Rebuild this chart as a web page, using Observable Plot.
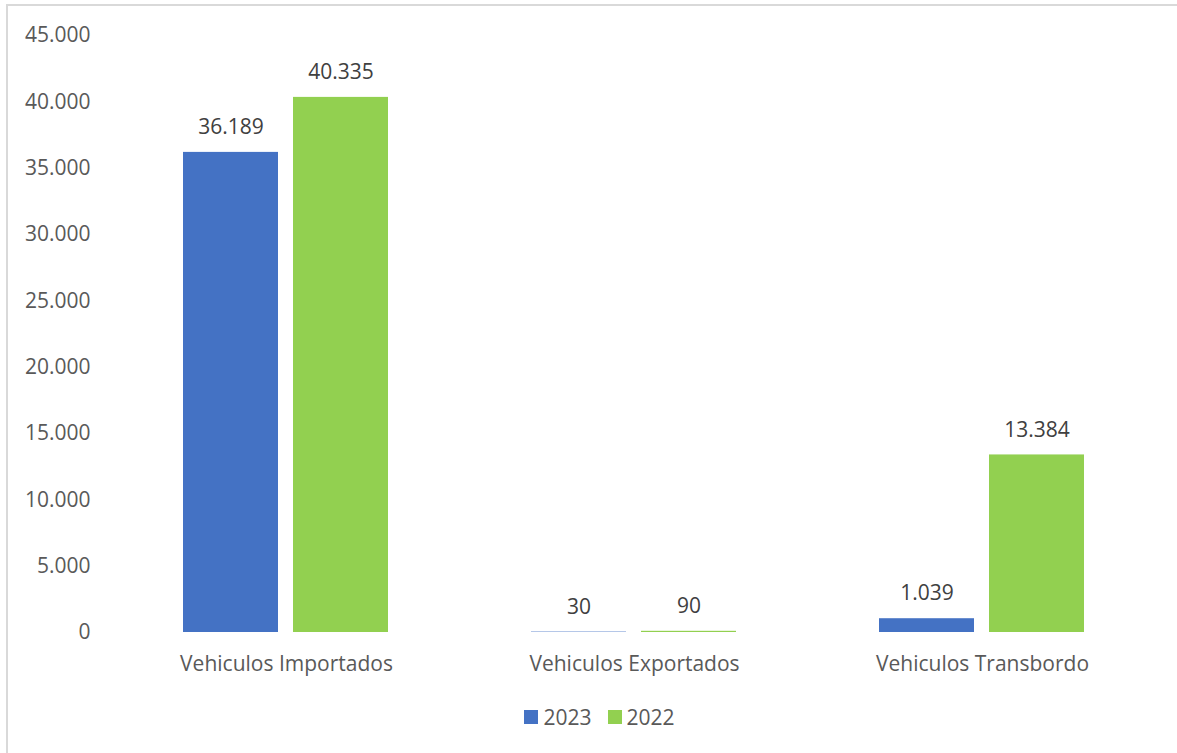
<!DOCTYPE html>
<html>
<head>
<meta charset="utf-8">
<script src="https://cdn.jsdelivr.net/npm/d3@7"></script>
<script src="https://cdn.jsdelivr.net/npm/@observablehq/plot@0.6"></script>
<style>
  html, body { margin: 0; padding: 0; background: #fff; }
  body { width: 1177px; height: 753px; position: relative; overflow: hidden; font-family: "Open Sans", sans-serif; }
  #frame { position: absolute; left: 6px; top: 4px; width: 1200px; height: 800px; border: 2px solid #d9d9d9; box-sizing: border-box; }
  #chart { position: absolute; left: 0; top: 0; }
  #legend { position: absolute; left: 0; top: 703px; width: 1177px; display: flex; justify-content: center; gap: 16px; font-size: 21px; color: #595959; padding-left: 22px; box-sizing: border-box; }
  #legend .item { display: flex; align-items: center; gap: 5px; }
  #legend .sw { width: 14px; height: 14px; display: inline-block; }
</style>
</head>
<body>
<div id="frame"></div>
<div id="chart"></div>
<div id="legend"></div>
<script>
const categories = ["Vehiculos Importados", "Vehiculos Exportados", "Vehiculos Transbordo"];
const years = ["2023", "2022"];
const values2023 = [36189, 30, 1039];
const values2022 = [40335, 90, 13384];
const yTicks = [0, 5000, 10000, 15000, 20000, 25000, 30000, 35000, 40000, 45000];
const colors = ["#4472C4", "#92D050"];

const data = [];
categories.forEach((c, i) => {
  data.push({category: c, year: years[0], value: values2023[i]});
  data.push({category: c, year: years[1], value: values2022[i]});
});

const locale = d3.formatLocale({decimal: ",", thousands: ".", grouping: [3], currency: ["", ""]});
const fmt = locale.format(",d");

const chart = Plot.plot({
  width: 1177,
  height: 690,
  marginLeft: 112,
  marginRight: 21,
  marginTop: 35,
  marginBottom: 58,
  style: {fontFamily: "Open Sans, sans-serif", fontSize: "21px", color: "#595959", background: "transparent"},
  fx: {domain: categories, padding: 0, label: null, axis: "bottom", tickSize: 0, tickPadding: 24},
  x: {domain: years, paddingInner: 0.136, paddingOuter: 0.64, axis: null},
  y: {domain: [0, 45000], ticks: yTicks, tickFormat: fmt, label: null, tickSize: 0, tickPadding: 22},
  color: {domain: years, range: colors},
  marks: [
    Plot.axisY({ticks: yTicks, tickFormat: fmt, tickSize: 0, tickPadding: 22, label: null, fontSize: 21}),
    Plot.barY(data, {fx: "category", x: "year", y: "value", fill: "year"}),
    Plot.text(data, {fx: "category", x: "year", y: "value", text: d => fmt(d.value), dy: -25, fill: "#404040", fontSize: 21})
  ]
});
document.getElementById("chart").appendChild(chart);

const legend = document.getElementById("legend");
years.forEach((y, i) => {
  const item = document.createElement("div");
  item.className = "item";
  const sw = document.createElement("span");
  sw.className = "sw";
  sw.style.background = colors[i];
  const t = document.createElement("span");
  t.textContent = y;
  item.appendChild(sw);
  item.appendChild(t);
  legend.appendChild(item);
});
</script>
</body>
</html>
